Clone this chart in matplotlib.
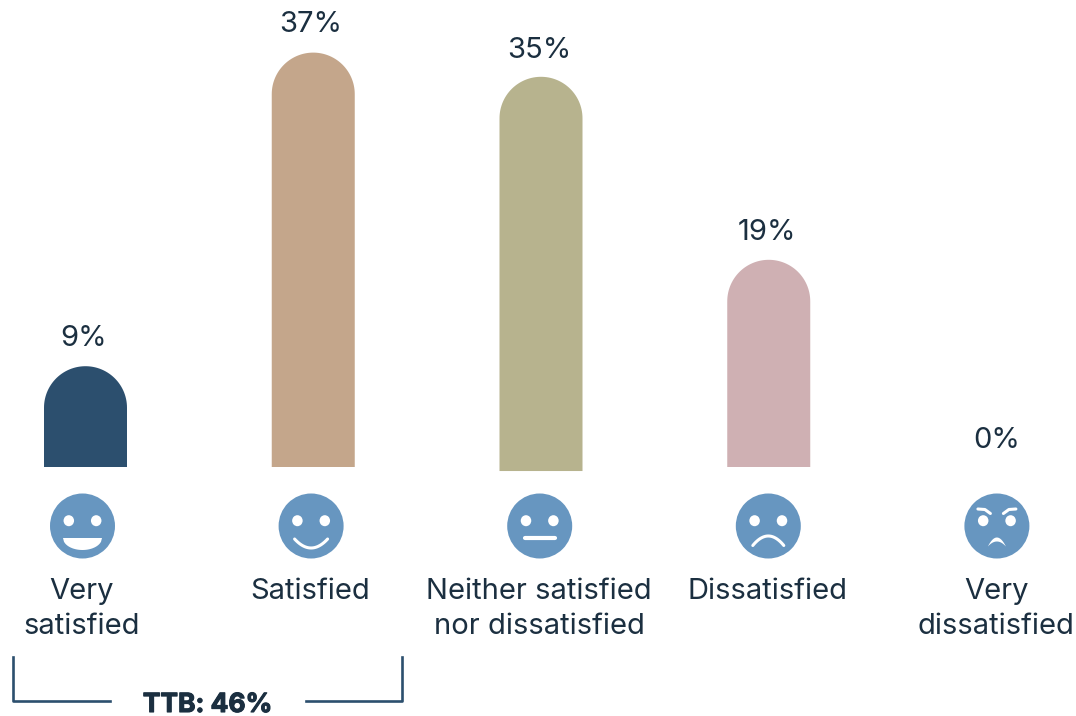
import matplotlib
matplotlib.use('Agg')
import matplotlib.pyplot as plt
import matplotlib.patheffects as pe
import numpy as np
from matplotlib.patches import Circle, Ellipse

categories = ['Very\nsatisfied', 'Satisfied', 'Neither satisfied\nnor dissatisfied', 'Dissatisfied', 'Very\ndissatisfied']
values = [9, 37, 35, 19, 0]
# bar heights as drawn, in percent (they differ a bit from the rounded labels)
heights = [9.0, 37.0, 35.2, 18.5, 0]
bottoms = [0, 0, -0.36, 0, 0]
bar_colors = ['#2c4f6e', '#c4a68b', '#b7b38e', '#cfb0b3', '#6796c0']
ttb_label = 'TTB: 46%'

W, H = 1076, 716
TEXT = '#1b2f40'
FACE = '#6796c0'
plt.rcParams['font.family'] = ['Inter', 'DejaVu Sans']

fig = plt.figure(figsize=(W / 100, H / 100), dpi=100)

# bars: x in category units, y in percent
x0, dx = 85.5, 227.75
y0, dy = 467, 11.2
ax = fig.add_axes([0, 0, 1, 1])
ax.set_xlim(-x0 / dx, (W - x0) / dx)
ax.set_ylim((y0 - H) / dy, y0 / dy)
ax.axis('off')

bw = 83 / dx
ry = 41.5 / dy
theta = np.linspace(0, np.pi, 60)
for i in range(len(values)):
    if heights[i] <= 0:
        continue
    top = bottoms[i] + heights[i] - ry
    # one outline so the round cap has no seam
    xs = np.r_[i + bw / 2, i + bw / 2 * np.cos(theta), i - bw / 2]
    ys = np.r_[bottoms[i], top + ry * np.sin(theta), bottoms[i]]
    ax.fill(xs, ys, color=bar_colors[i], lw=0)

label_gap = [28, 28, 26, 27, 26]
label_shift = [-1.5, -1.5, -1.5, -1.5, 0]
for i, v in enumerate(values):
    ax.annotate(f'{v}%', (i, bottoms[i] + heights[i] if v else 0),
                xytext=(label_shift[i], label_gap[i] * 0.72), textcoords='offset points',
                ha='center', va='center', fontsize=21, color=TEXT)

# overlay in pixel coordinates for faces and bracket
ov = fig.add_axes([0, 0, 1, 1])
ov.set_xlim(0, W)
ov.set_ylim(H, 0)
ov.axis('off')
ov.patch.set_alpha(0)


def arc(cx, cy, halfw, depth, n=30):
    t = np.linspace(-1, 1, n)
    return cx + halfw * t, cy + depth * (1 - t ** 2)


def face(cx, cy, kind):
    ov.add_patch(Circle((cx, cy), 32.5, color=FACE, lw=0))
    for s in (-1, 1):
        ov.add_patch(Ellipse((cx + s * 13.7, cy - 5.3), 10.5, 11, color='white', lw=0))
    if kind == 0:
        t = np.linspace(-1, 1, 40)
        ov.fill(cx + 19.5 * t, cy + 12 + 12 * np.sqrt(1 - t ** 2), color='white', lw=0)
    elif kind == 1:
        xs, ys = arc(cx, cy + 13, 16.5, 9)
        ov.plot(xs, ys, color='white', lw=2.2, solid_capstyle='round')
    elif kind == 2:
        ov.plot([cx - 15, cx + 15], [cy + 12, cy + 12], color='white', lw=3, solid_capstyle='round')
    elif kind == 3:
        xs, ys = arc(cx, cy + 19.5, 15.5, -9.5)
        ov.plot(xs, ys, color='white', lw=2.2, solid_capstyle='round')
    else:
        for s in (-1, 1):
            ov.plot([cx + s * 6.5, cx + s * 12, cx + s * 19], [cy - 12.5, cy - 16.5, cy - 17],
                    color='white', lw=2.2, solid_capstyle='round')
        xs, ys = arc(cx, cy + 20.5, 9, -9)
        ov.fill(np.r_[xs, xs[::-1]], np.r_[ys, cy + 20.5 - 5 * (1 - ((xs[::-1] - cx) / 9) ** 2)],
                color='white', lw=0)


for i, name in enumerate(categories):
    face(82.5 + 228.6 * i, 526, i)
    ov.text(82 + 228.6 * i, 578, name, ha='center', va='top',
            fontsize=21, color=TEXT, linespacing=1.38)

# TTB bracket
ov.plot([13, 13, 110], [657, 701, 701], color=bar_colors[0], lw=1.9, solid_joinstyle='round')
ov.plot([306, 402, 402], [701, 701, 657], color=bar_colors[0], lw=1.9, solid_joinstyle='round')
ttb = ov.text(207.5, 705, ttb_label, ha='center', va='center', fontsize=19, fontweight='bold', color=TEXT)
ttb.set_path_effects([pe.withStroke(linewidth=0.8, foreground=TEXT)])

fig.savefig('out.png', dpi=100)
